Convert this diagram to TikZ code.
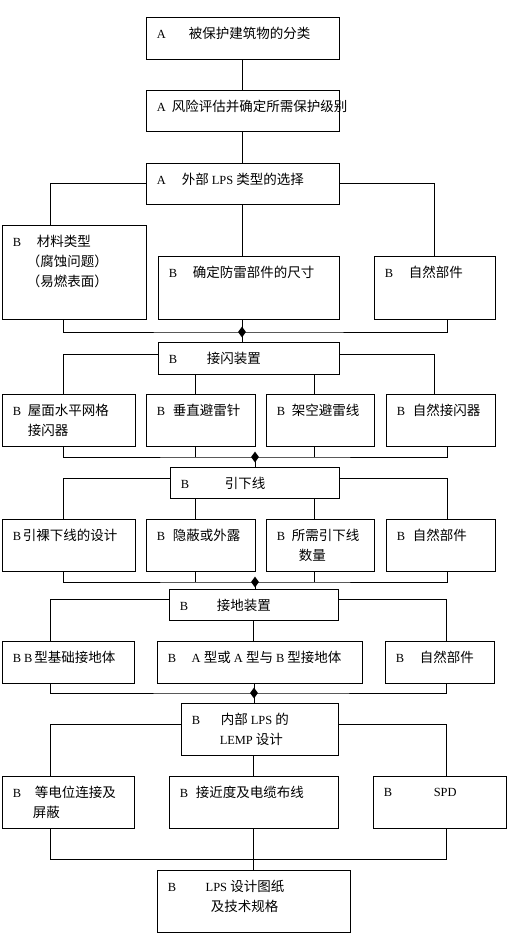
\documentclass[tikz,border=0pt]{standalone}
\usepackage{fontspec}
\setmainfont{Noto Sans CJK SC}
\newfontfamily\lat[Scale=0.92]{Liberation Serif}
\usetikzlibrary{shapes.geometric,fit}
\newcommand\grade[2]{\makebox[#1pt][l]{\lat #2}}
\newcommand\en[1]{{\lat #1}}

\begin{document}
\begin{tikzpicture}[
  x=1pt, y=-1pt,
  box/.style={draw=black, line width=.9pt, inner sep=0pt},
  txt/.style={anchor=north west, inner sep=0pt, align=left,
              font=\fontsize{13.5}{20}\selectfont, xshift=11pt, yshift=-10pt},
  jn/.style={diamond, fill=black, inner sep=0pt, minimum width=8pt, minimum height=11pt},
  ln/.style={draw=black, line width=.9pt},
]
\useasboundingbox (0,0) rectangle (508,935);

%% ================= A : classification, risk, external LPS =================
\node[box, fit={(146,17) (339,59)}] (a1) {};
\node[txt] (a1t) at (a1.north west) {\grade{32}{A}被保护建筑物的分类};
\node[box, fit={(146,90) (339,131)}] (a2) {};
\node[txt] (a2t) at (a2.north west) {\grade{15}{A}风险评估并确定所需保护级别};
\node[box, fit={(146,163) (339,204)}] (a3) {};
\node[txt] (a3t) at (a3.north west) {\grade{25}{A}外部\en{ LPS }类型的选择};

\draw[ln] (a1) -- (a2);
\draw[ln] (a2) -- (a3);

%% ================= B : material, dimensions, natural =================
\node[box, fit={(2,225) (146,319)}] (b1) {};
\node[txt] (b1t) at (b1.north west)
  {\grade{24}{B}材料类型\\\hspace*{14pt}（腐蚀问题）\\\hspace*{14pt}（易燃表面）};
\node[box, fit={(158,256) (339,319)}] (b2) {};
\node[txt] (b2t) at (b2.north west) {\grade{24}{B}确定防雷部件的尺寸};
\node[box, fit={(374,256) (495,319)}] (b3) {};
\node[txt] (b3t) at (b3.north west) {\grade{24}{B}自然部件};

\draw[ln] (a3.west) -| ([xshift=-24pt]b1.north);
\draw[ln] (a3.south) -- (a3.south |- b2.north);
\draw[ln] (a3.east) -| (b3.north);

%% ================= air-termination =================
\node[box, fit={(158,342) (339,374)}] (c0) {};
\node[txt] (c0t) at (c0.north west) {\grade{38}{B}接闪装置};
\node[jn] (j1) at (242,332) {};

\draw[ln] ([xshift=-11pt]b1.south) |- (j1.center) -| ([xshift=12.5pt]b3.south);
\draw[ln] (b2.south -| j1) -- (j1 |- c0.north);

\node[box, fit={(2,394) (135,446)}] (c1) {};
\node[txt] (c1t) at (c1.north west) {\grade{15}{B}屋面水平网格\\\hspace*{15pt}接闪器};
\node[box, fit={(146,394) (255,446)}] (c2) {};
\node[txt] (c2t) at (c2.north west) {\grade{16}{B}垂直避雷针};
\node[box, fit={(266,394) (374,446)}] (c3) {};
\node[txt] (c3t) at (c3.north west) {\grade{15}{B}架空避雷线};
\node[box, fit={(386,394) (495,446)}] (c4) {};
\node[txt] (c4t) at (c4.north west) {\grade{16}{B}自然接闪器};

\draw[ln] ([yshift=4pt]c0.west) -| ([xshift=-5.5pt]c1.north);
\draw[ln] ([yshift=4pt]c0.east) -| ([xshift=-6.5pt]c4.north);
\foreach \n/\s in {c2/-5.5,c3/-6}
  \draw[ln] ([xshift=\s pt]\n.north |- c0.south) -- ([xshift=\s pt]\n.north);

%% ================= down-conductors =================
\node[box, fit={(170,467) (339,498)}] (d0) {};
\node[txt] (d0t) at (d0.north west) {\grade{44}{B}引下线};
\node[jn] (j2) at (255,457) {};

\draw[ln] ([xshift=-5.5pt]c1.south) |- (j2.center) -| ([xshift=6.5pt]c4.south);
\foreach \n/\s in {c2/-5.5,c3/-6}
  \draw[ln] ([xshift=\s pt]\n.south) -- ([xshift=\s pt]\n.south |- j2);
\draw[ln] (j2.center) -- (j2 |- d0.north);

\node[box, fit={(2,519) (135,571)}] (d1) {};
\node[txt] (d1t) at (d1.north west) {\grade{10}{B}引裸下线的设计};
\node[box, fit={(146,519) (255,571)}] (d2) {};
\node[txt] (d2t) at (d2.north west) {\grade{16}{B}隐蔽或外露};
\node[box, fit={(266,519) (374,571)}] (d3) {};
\node[txt] (d3t) at (d3.north west) {\grade{15}{B}所需引下线\\\hspace*{22pt}数量};
\node[box, fit={(386,519) (495,571)}] (d4) {};
\node[txt] (d4t) at (d4.north west) {\grade{16}{B}自然部件};

\draw[ln] ([yshift=4.5pt]d0.west) -| ([xshift=-5.5pt]d1.north);
\draw[ln] ([yshift=4.5pt]d0.east) -| ([xshift=6.5pt]d4.north);
\foreach \n/\s in {d2/-5.5,d3/-6}
  \draw[ln] ([xshift=\s pt]\n.north |- d0.south) -- ([xshift=\s pt]\n.north);

%% ================= earth-termination =================
\node[box, fit={(169,589) (338,620)}] (e0) {};
\node[txt] (e0t) at (e0.north west) {\grade{37}{B}接地装置};
\node[jn] (j3) at (255,582) {};

\draw[ln] ([xshift=-5.5pt]d1.south) |- (j3.center) -| ([xshift=6.5pt]d4.south);
\foreach \n/\s in {d2/-5.5,d3/-6}
  \draw[ln] ([xshift=\s pt]\n.south) -- ([xshift=\s pt]\n.south |- j3);
\draw[ln] (j3.center) -- (j3 |- e0.north);

\node[box, fit={(2,641) (134,683)}] (e1) {};
\node[txt] (e1t) at (e1.north west) {\grade{11.5}{B}\grade{10}{B}型基础接地体};
\node[box, fit={(157,641) (362,683)}] (e2) {};
\node[txt] (e2t) at (e2.north west) {\grade{24}{B}\en{A }型或\en{ A }型与\en{ B }型接地体};
\node[box, fit={(385,641) (494,683)}] (e3) {};
\node[txt] (e3t) at (e3.north west) {\grade{24}{B}自然部件};

\draw[ln] ([yshift=5.5pt]e0.west) -| ([xshift=-18pt]e1.north);
\draw[ln] ([yshift=5.5pt]e0.east) -| ([xshift=6.5pt]e3.north);
\draw[ln] (e0.south) -- (e0.south |- e2.north);

%% ================= internal LPS =================
\node[box, fit={(181,703) (338,755)}] (f0) {};
\node[txt] (f0t) at (f0.north west) {\grade{29}{B}内部\en{ LPS }的\\\hspace*{28pt}\en{LEMP }设计};
\node[jn] (j4) at (254,693) {};

\draw[ln] ([xshift=-18pt]e1.south) |- (j4.center) -| ([xshift=6.5pt]e3.south);
\draw[ln] (e2.south -| j4) -- (j4 |- f0.north);

\node[box, fit={(2,776) (134,828)}] (f1) {};
\node[txt] (f1t) at (f1.north west) {\grade{22}{B}等电位连接及\\\hspace*{20pt}屏蔽};
\node[box, fit={(169,776) (338,828)}] (f2) {};
\node[txt] (f2t) at (f2.north west) {\grade{16}{B}接近度及电缆布线};
\node[box, fit={(373,776) (506,828)}] (f3) {};
\node[txt] (f3t) at (f3.north west) {\vphantom{设}\grade{50}{B}\en{SPD}};

\draw[ln] ([yshift=5pt]f0.west) -| ([xshift=-18pt]f1.north);
\draw[ln] ([yshift=5pt]f0.east) -| ([xshift=6.5pt]f3.north);
\draw[ln] (f2.north |- f0.south) -- (f2.north);

%% ================= drawings and specification =================
\node[box, fit={(157,870) (350,932)}] (g0) {};
\node[txt] (g0t) at (g0.north west) {\grade{38}{B}\en{LPS }设计图纸\\\hspace*{43pt}及技术规格};
\coordinate (j5) at (254,859);

\draw[ln] ([xshift=-18pt]f1.south) |- (j5) -| ([xshift=6.5pt]f3.south);
\draw[ln] (f2.south) -- (f2.south |- g0.north);

\end{tikzpicture}
\end{document}
